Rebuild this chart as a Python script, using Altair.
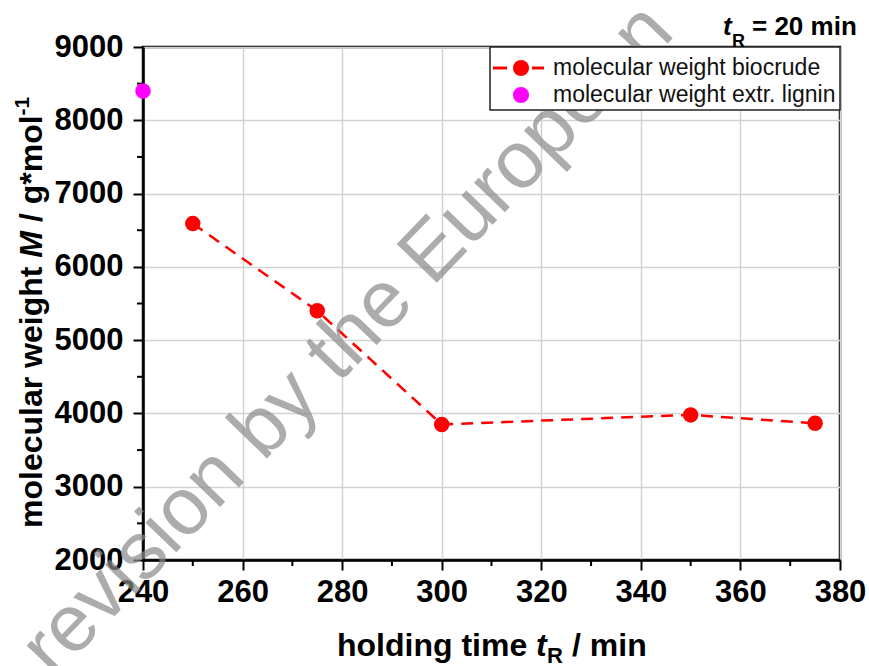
import altair as alt
import pandas as pd

# ---- data ----
hold_time = [250, 275, 300, 350, 375]
mw_biocrude = [6590, 5400, 3850, 3980, 3865]
lignin_time = [240]
mw_lignin = [8400]

x_ticks = [240, 260, 280, 300, 320, 340, 360, 380]
y_ticks = [2000, 3000, 4000, 5000, 6000, 7000, 8000, 9000]
x_minor = [250, 270, 290, 310, 330, 350, 370]
y_minor = [2500, 3500, 4500, 5500, 6500, 7500, 8500]

legend_labels = ["molecular weight biocrude", "molecular weight extr. lignin"]
watermark = ["revision by the European"]

W, H = 697, 513
FONT = "Liberation Sans"

xs = alt.Scale(domain=[240, 380], nice=False, zero=False)
ys = alt.Scale(domain=[2000, 9000], nice=False, zero=False)

bio = pd.DataFrame({"t": hold_time, "M": mw_biocrude})
lig = pd.DataFrame({"t": lignin_time, "M": mw_lignin})

common_axis = dict(
    title=None, grid=True, gridColor="#d2d2d2", gridWidth=1.5,
    tickSize=10, tickWidth=2, tickColor="black",
    domainColor="black", domainWidth=2.5,
    labelFont=FONT, labelFontSize=31, labelFontWeight="bold", labelColor="black",
    labelFlush=False, labelOverlap=False, format="d",
)
xaxis = alt.Axis(values=x_ticks, labelPadding=7, **common_axis)
yaxis = alt.Axis(values=y_ticks, labelPadding=10, **common_axis)

X = alt.X("t:Q", scale=xs, axis=xaxis)
Y = alt.Y("M:Q", scale=ys, axis=yaxis)

line = alt.Chart(bio).mark_line(color="red", strokeDash=[12, 8], strokeWidth=2.5).encode(x=X, y=Y)
pts = alt.Chart(bio).mark_circle(size=240, color="red", opacity=1).encode(x=X, y=Y)
lig_pts = alt.Chart(lig).mark_circle(size=240, color="#ff00ff", opacity=1, clip=False).encode(x=X, y=Y)

xminor = alt.Chart(pd.DataFrame({"t": x_minor})).mark_rule(color="black", strokeWidth=2).encode(
    x=X, y=alt.value(H), y2=alt.value(H + 6)
)
yminor = alt.Chart(pd.DataFrame({"M": y_minor})).mark_rule(color="black", strokeWidth=2).encode(
    y=Y, x=alt.value(0), x2=alt.value(-6)
)

def txt(label, x, y, size, weight="bold", style="normal", angle=0, align="left",
        baseline="alphabetic", color="black", opacity=1.0):
    return alt.Chart(pd.DataFrame({"s": [label]})).mark_text(
        font=FONT, fontSize=size, fontWeight=weight, fontStyle=style, angle=angle,
        align=align, baseline=baseline, color=color, opacity=opacity,
    ).encode(x=alt.value(x), y=alt.value(y), text="s:N")

def hrule(x1, x2, y, color):
    return alt.Chart(pd.DataFrame({"a": [0]})).mark_rule(color=color, strokeWidth=3).encode(
        x=alt.value(x1), x2=alt.value(x2), y=alt.value(y))

def dot(x, y, color):
    return alt.Chart(pd.DataFrame({"a": [0]})).mark_circle(size=260, color=color, opacity=1).encode(
        x=alt.value(x), y=alt.value(y))

wm = txt(watermark[0], 222, 310, 81, weight="normal", angle=314, align="center",
         color="#8a8a8a", opacity=0.7)

# legend
leg_box = alt.Chart(pd.DataFrame({"a": [0]})).mark_rect(
    fill="white", stroke="#222222", strokeWidth=1.5
).encode(x=alt.value(347), x2=alt.value(W), y=alt.value(0), y2=alt.value(63))
leg_d1 = hrule(350, 364, 21, "red")
leg_d2 = hrule(389, 401, 21, "red")
leg_p1 = dot(378, 21, "red")
leg_p2 = dot(378, 48, "#ff00ff")
leg_t1 = txt(legend_labels[0], 410, 21, 23, weight="normal", baseline="middle", color="#111111")
leg_t2 = txt(legend_labels[1], 410, 48, 23, weight="normal", baseline="middle", color="#111111")

# top annotation t_R = 20 min
top_t = txt("t", 580, -12, 26, style="italic")
top_R = txt("R", 589, 0, 18)
top_rest = txt("= 20 min", 609, -12, 26)

# x title
xt1 = txt("holding time", 194, 609, 32)
xt2 = txt("t", 393, 609, 32, style="italic")
xt3 = txt("R", 404, 616, 22)
xt4 = txt("/ min", 429, 609, 32)

# y title (rotated)
yt1 = txt("molecular weight", -101, 481, 32, angle=270)
yt2 = txt("M", -101, 210.7, 32, style="italic", angle=270)
yt3 = txt("/ g*mol", -101, 175.1, 32, angle=270)
yt4 = txt("-1", -114, 68.4, 21, angle=270)

chart = alt.layer(
    line, xminor, yminor, wm, pts, lig_pts,
    leg_box, leg_d1, leg_d2, leg_p1, leg_p2, leg_t1, leg_t2,
    top_t, top_R, top_rest, xt1, xt2, xt3, xt4, yt1, yt2, yt3, yt4,
).properties(
    width=W, height=H,
    autosize=alt.AutoSizeParams(type="none"),
    padding={"left": 143, "top": 47, "right": 29, "bottom": 106},
    background="white",
).configure_view(stroke="black", strokeWidth=2.5)

chart.save("out.html", embed_options={"renderer": "svg", "actions": False})
